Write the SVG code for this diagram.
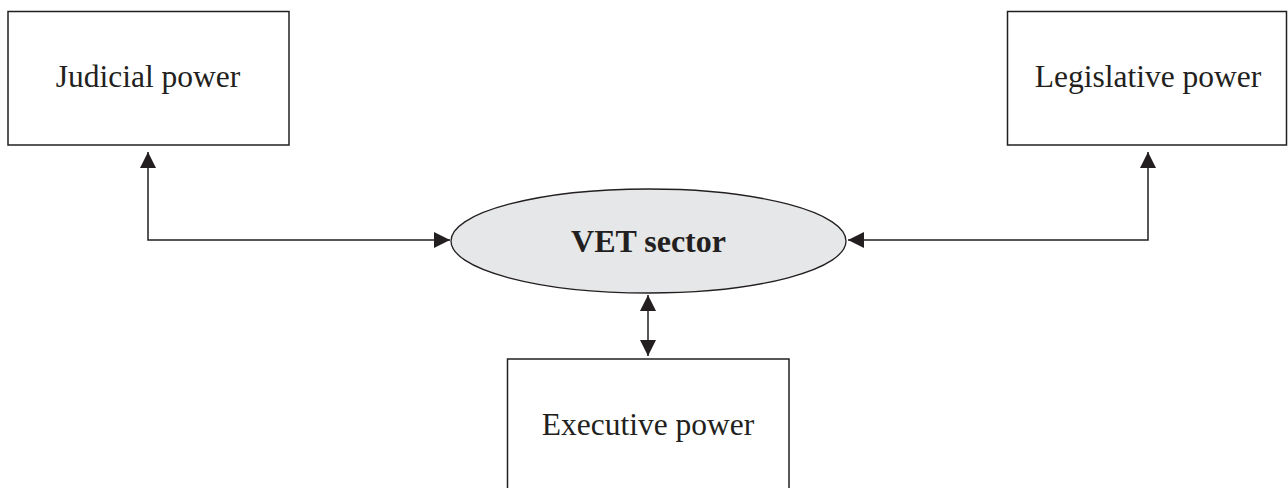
<svg xmlns="http://www.w3.org/2000/svg" width="1288" height="488" viewBox="0 0 1288 488">
  <style>
    .box { fill: #ffffff; stroke: #231f20; stroke-width: 1.5; }
    .hub { fill: #e6e7e8; stroke: #231f20; stroke-width: 1.3; }
    .label { font-family: "Liberation Serif", "Times New Roman", serif; font-size: 31.5px; fill: #231f20; text-anchor: middle; }
    .hub-label { font-family: "Liberation Serif", "Times New Roman", serif; font-size: 32px; font-weight: bold; fill: #231f20; text-anchor: middle; }
    .link { fill: none; stroke: #231f20; stroke-width: 1.5; }
  </style>
  <defs>
    <marker id="head" viewBox="0 0 16 16" refX="16" refY="8" markerWidth="16" markerHeight="16" markerUnits="userSpaceOnUse" orient="auto-start-reverse">
      <path d="M0,0 L16,8 L0,16 Z" fill="#231f20"/>
    </marker>
  </defs>
  <rect width="1288" height="488" fill="#ffffff"/>

  <g id="judicial">
    <rect class="box" x="8" y="11.5" width="281" height="133.5"/>
    <text class="label" x="148" y="87">Judicial power</text>
  </g>

  <g id="legislative">
    <rect class="box" x="1007.5" y="11.5" width="279" height="133.5"/>
    <text class="label" x="1148" y="87">Legislative power</text>
  </g>

  <g id="vet">
    <ellipse class="hub" cx="648.5" cy="241" rx="197.5" ry="52"/>
    <text class="hub-label" x="648.5" y="252">VET sector</text>
  </g>

  <g id="executive">
    <rect class="box" x="507.5" y="359" width="281.5" height="140"/>
    <text class="label" x="648" y="435">Executive power</text>
  </g>

  <g id="connectors">
    <path class="link" d="M450,240 L148,240 L148,152" marker-start="url(#head)" marker-end="url(#head)"/>
    <path class="link" d="M848,240 L1148,240 L1148,152" marker-start="url(#head)" marker-end="url(#head)"/>
    <path class="link" d="M648,295 L648,356" marker-start="url(#head)" marker-end="url(#head)"/>
  </g>
</svg>
